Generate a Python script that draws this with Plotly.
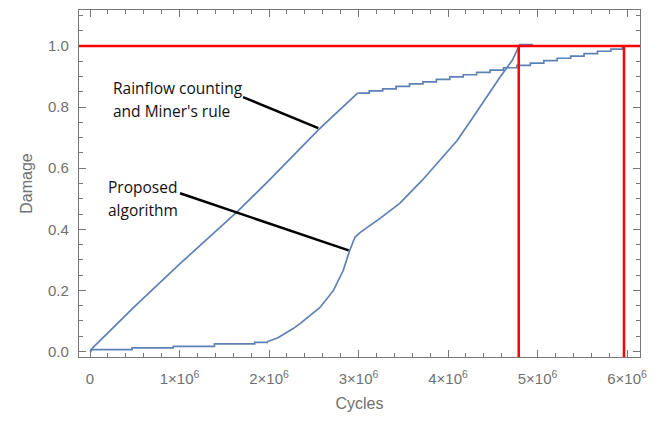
import plotly.graph_objects as go

# ---- data ----
# Rainflow counting + Miner's rule: near-linear rise, then a stepped shallow part
rf_lin_x = [0, 30000, 500000, 1000000, 1640000, 2000000, 2560000, 2990000]
rf_lin_y = [0.0, 0.012, 0.148, 0.286, 0.456, 0.560, 0.728, 0.846]
rf_step_x = [2990000, 3120000, 3270000, 3420000, 3570000, 3720000, 3870000, 4020000,
             4170000, 4320000, 4470000, 4620000, 4770000, 4920000, 5070000, 5220000,
             5370000, 5520000, 5670000, 5820000, 5950000]
rf_step_y = [0.846, 0.853, 0.860, 0.868, 0.876, 0.883, 0.891, 0.899,
             0.906, 0.914, 0.921, 0.929, 0.937, 0.944, 0.952, 0.960,
             0.967, 0.975, 0.983, 0.990, 0.997]

# Proposed algorithm: flat steps then rising curve
pa_step_x = [0, 10000, 470000, 930000, 1390000, 1840000, 1980000]
pa_step_y = [0.0, 0.006, 0.012, 0.017, 0.025, 0.030, 0.032]
pa_curve_x = [1980000, 2100000, 2270000, 2350000, 2570000, 2720000, 2830000, 2900000,
              2960000, 3020000, 3240000, 3460000, 3710000, 3910000, 4100000, 4280000,
              4430000, 4580000, 4720000, 4790000, 4800000, 4950000]
pa_curve_y = [0.032, 0.045, 0.075, 0.092, 0.144, 0.200, 0.266, 0.330,
              0.374, 0.390, 0.436, 0.485, 0.560, 0.626, 0.690, 0.767,
              0.833, 0.898, 0.954, 1.000, 1.005, 1.005]

failure_level = 1.0
failure_cycles = [4790000, 5966000]

x_tickvals = [0, 1e6, 2e6, 3e6, 4e6, 5e6, 6e6]
x_ticktext = ["0"] + [f"{i}\u00d710<sup>6</sup>" for i in range(1, 7)]
y_tickvals = [0.0, 0.2, 0.4, 0.6, 0.8, 1.0]
y_ticktext = ["0.0", "0.2", "0.4", "0.6", "0.8", "1.0"]

labels = [
    # text, x, y
    ("Rainflow counting", 235000, 0.862),
    ("and Miner's rule", 235000, 0.788),
    ("Proposed", 180000, 0.537),
    ("algorithm", 180000, 0.462),
]
pointers = [
    # x0, y0, x1, y1
    (1710000, 0.833, 2550000, 0.731),
    (1006000, 0.518, 2890000, 0.331),
]

XRANGE = [-123000, 6145000]
YRANGE = [-0.018, 1.118]

BLUE = "#5E81B5"
RED = "#FF0000"
GRAY = "#777777"
TXT = "#707070"

fig = go.Figure()
line_style = dict(color=BLUE, width=1.7)
fig.add_trace(go.Scatter(x=rf_lin_x, y=rf_lin_y, mode="lines", line=line_style,
                         showlegend=False, hoverinfo="skip"))
fig.add_trace(go.Scatter(x=rf_step_x, y=rf_step_y, mode="lines",
                         line=dict(line_style, shape="hv"), showlegend=False, hoverinfo="skip"))
fig.add_trace(go.Scatter(x=pa_step_x, y=pa_step_y, mode="lines",
                         line=dict(line_style, shape="hv"), showlegend=False, hoverinfo="skip"))
fig.add_trace(go.Scatter(x=pa_curve_x, y=pa_curve_y, mode="lines", line=line_style,
                         showlegend=False, hoverinfo="skip"))

# red failure lines
fig.add_shape(type="line", xref="paper", yref="y", x0=0, x1=1,
              y0=failure_level, y1=failure_level, line=dict(color=RED, width=2.5))
for fc in failure_cycles:
    fig.add_shape(type="line", xref="x", yref="y", x0=fc, x1=fc,
                  y0=YRANGE[0], y1=failure_level, line=dict(color=RED, width=2.5))

# pointer lines
for x0, y0, x1, y1 in pointers:
    fig.add_shape(type="line", xref="x", yref="y", x0=x0, y0=y0, x1=x1, y1=y1,
                  line=dict(color="black", width=2.5))

for t, x, y in labels:
    fig.add_annotation(text=t, x=x, y=y, xref="x", yref="y", showarrow=False,
                       xanchor="left", yanchor="middle",
                       font=dict(family="Open Sans", size=15.5, color="#111111"))

axis_common = dict(showline=True, linecolor=GRAY, linewidth=1.2, mirror="allticks",
                   ticks="inside", ticklen=7, tickwidth=1, tickcolor=GRAY,
                   showgrid=False, zeroline=False,
                   tickfont=dict(family="Liberation Sans", size=15, color=TXT))

fig.update_xaxes(range=XRANGE, tickmode="array", tickvals=x_tickvals, ticktext=x_ticktext,
                 minor=dict(dtick=200000, tick0=0, ticks="inside", ticklen=4,
                            tickcolor=GRAY, tickwidth=1),
                 ticklabelstandoff=8,
                 title=dict(text="Cycles", standoff=11,
                            font=dict(family="Liberation Sans", size=16, color=TXT)),
                 **axis_common)
fig.update_yaxes(range=YRANGE, tickmode="array", tickvals=y_tickvals, ticktext=y_ticktext,
                 minor=dict(dtick=0.05, tick0=0, ticks="inside", ticklen=4,
                            tickcolor=GRAY, tickwidth=1),
                 ticklabelstandoff=6,
                 title=dict(text="Damage", standoff=11,
                            font=dict(family="Liberation Sans", size=16, color=TXT)),
                 **axis_common)

fig.update_layout(width=664, height=425, margin=dict(l=79, r=24, t=10, b=68),
                  plot_bgcolor="white", paper_bgcolor="white")

fig.write_html("out.html")
